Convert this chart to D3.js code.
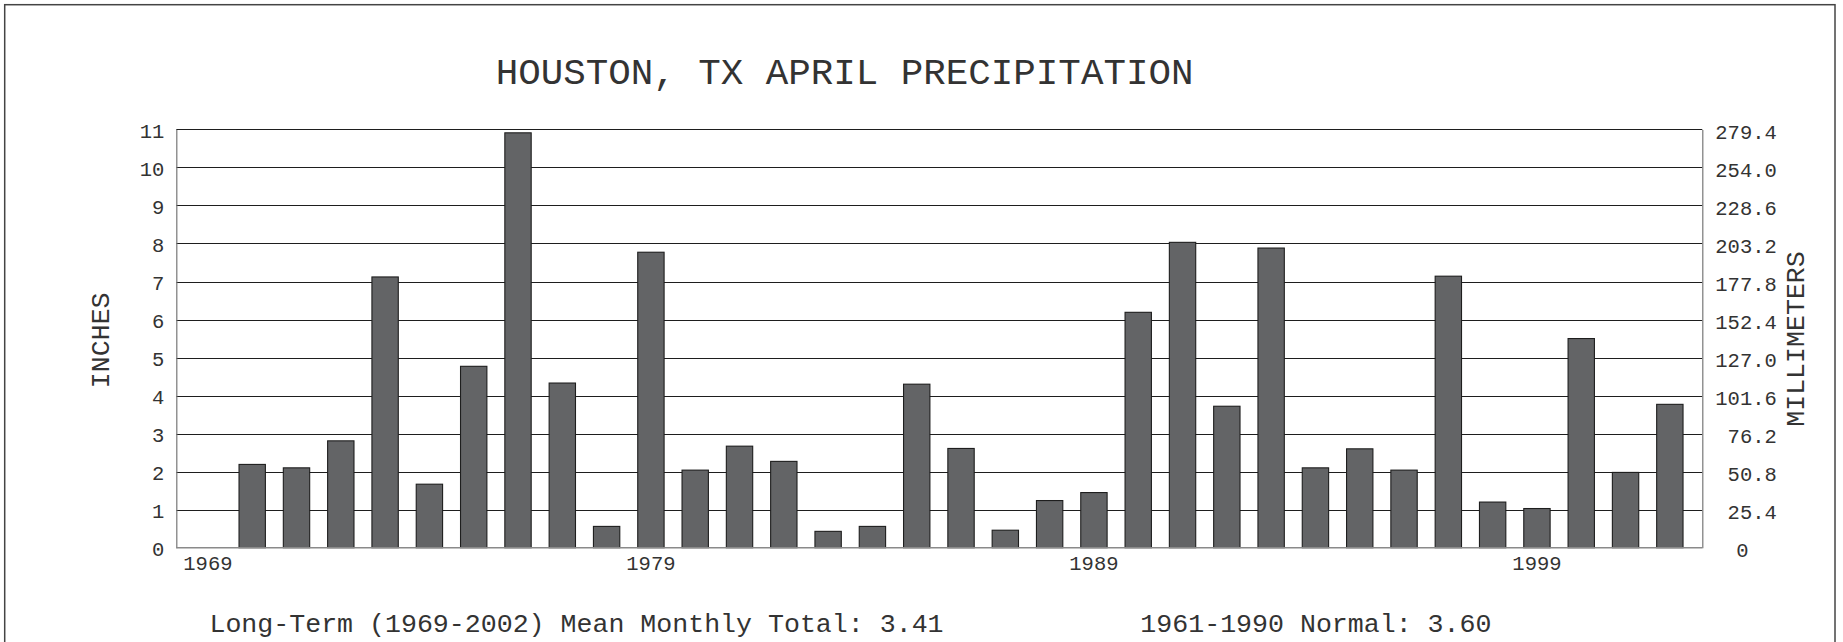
<!DOCTYPE html>
<html>
<head>
<meta charset="utf-8">
<script src="https://cdn.jsdelivr.net/npm/d3@7"></script>
<style>
  html, body { margin: 0; padding: 0; background: #fff; }
  svg { display: block; }
  text { font-family: "Liberation Mono", "DejaVu Sans Mono", monospace; fill: #333; }
</style>
</head>
<body>
<svg id="chart" width="1843" height="642"></svg>
<script>
// ---- data ----
const years = ["1969","1970","1971","1972","1973","1974","1975","1976","1977","1978",
               "1979","1980","1981","1982","1983","1984","1985","1986","1987","1988",
               "1989","1990","1991","1992","1993","1994","1995","1996","1997","1998",
               "1999","2000","2001","2002"];
const precipInches = [null, 2.19, 2.10, 2.81, 7.12, 1.67, 4.77, 10.91, 4.33, 0.56,
                      7.77, 2.04, 2.67, 2.27, 0.43, 0.56, 4.30, 2.61, 0.46, 1.24,
                      1.45, 6.19, 8.03, 3.72, 7.88, 2.10, 2.60, 2.04, 7.14, 1.20,
                      1.03, 5.50, 1.98, 3.77];
const xTickLabels = ["1969", "1979", "1989", "1999"];
const inchTicks = [0,1,2,3,4,5,6,7,8,9,10,11];
const mmTickLabels = ["0","25.4","50.8","76.2","101.6","127.0","152.4","177.8","203.2","228.6","254.0","279.4"];
const titleText = "HOUSTON, TX APRIL PRECIPITATION";
const leftTitle = "INCHES";
const rightTitle = "MILLIMETERS";
const footLeft = "Long-Term (1969-2002) Mean Monthly Total: 3.41";
const footRight = "1961-1990 Normal: 3.60";

// ---- layout ----
const svg = d3.select("#chart");
const plot = { left: 176.3, right: 1702.3, top: 129.4, bottom: 547.7 };

const x = d3.scaleBand().domain(years).range([185.75, 1692]).paddingInner(0.405).paddingOuter(0.2025);
const y = d3.scaleLinear().domain([0, 11]).range([plot.bottom, plot.top]);
const yMM = d3.scaleLinear().domain([0, 279.4]).range([plot.bottom, plot.top]);

// outer frame
svg.append("rect")
  .attr("x", 4.7).attr("y", 4.7).attr("width", 1830.3).attr("height", 700)
  .attr("fill", "none").attr("stroke", "#444").attr("stroke-width", 1.5);

// title
svg.append("text")
  .attr("x", 844.6).attr("y", 83.5)
  .attr("text-anchor", "middle")
  .style("font-size", "37.5px")
  .text(titleText);

// gridlines
svg.append("g").selectAll("line").data(inchTicks.filter(d => d > 0)).join("line")
  .attr("x1", plot.left).attr("x2", plot.right)
  .attr("y1", d => Math.round(y(d)) + 0.5).attr("y2", d => Math.round(y(d)) + 0.5)
  .attr("stroke", "#1e1e1e").attr("stroke-width", 1.1);

// bars
svg.append("g").selectAll("rect")
  .data(years.map((yr, i) => ({ yr, v: precipInches[i] })).filter(d => d.v != null))
  .join("rect")
  .attr("x", d => x(d.yr))
  .attr("width", x.bandwidth())
  .attr("y", d => y(d.v))
  .attr("height", d => y(0) - y(d.v))
  .attr("fill", "#636466")
  .attr("stroke", "#1e1e1e").attr("stroke-width", 1.1);

// left axis
const leftAxis = d3.axisLeft(y).tickValues(inchTicks).tickSize(0).tickPadding(12)
  .tickFormat(d3.format("d"));
const gl = svg.append("g").attr("transform", `translate(${plot.left},0)`).call(leftAxis);
gl.select(".domain").attr("stroke", "#777").attr("stroke-width", 1.2);
gl.selectAll("text").style("font-size", "20.5px").attr("fill", "#333").attr("y", 1.2);

// right axis (millimetres)
const rightAxis = d3.axisRight(yMM).tickValues(inchTicks.map(d => d * 25.4)).tickSize(0)
  .tickFormat((d, i) => mmTickLabels[i]);
const gr = svg.append("g").attr("transform", `translate(${plot.right},0)`).call(rightAxis);
gr.select(".domain").attr("stroke", "#777").attr("stroke-width", 1.2);
gr.selectAll("text").style("font-size", "20.5px").attr("fill", "#333")
  .attr("y", 2.2)
  .attr("text-anchor", (d, i) => mmTickLabels[i].indexOf(".") < 0 ? "middle" : "end")
  .attr("x", (d, i) => mmTickLabels[i].indexOf(".") < 0 ? 40 : 74.5);

// bottom axis
const bottomAxis = d3.axisBottom(x).tickValues(xTickLabels).tickSize(0).tickPadding(8);
const gb = svg.append("g").attr("transform", `translate(0,${plot.bottom})`).call(bottomAxis);
gb.select(".domain").remove();
gb.selectAll("text").style("font-size", "20.5px").attr("fill", "#333");
svg.append("line")
  .attr("x1", plot.left).attr("x2", plot.right)
  .attr("y1", plot.bottom).attr("y2", plot.bottom)
  .attr("stroke", "#8a8a8a").attr("stroke-width", 1.6);

// axis titles
svg.append("text")
  .attr("transform", `translate(108.5,340.3) rotate(-90)`)
  .attr("text-anchor", "middle")
  .style("font-size", "26.6px")
  .text(leftTitle);
svg.append("text")
  .attr("transform", `translate(1804,339) rotate(-90)`)
  .attr("text-anchor", "middle")
  .style("font-size", "26.6px")
  .text(rightTitle);

// footer notes
svg.append("text")
  .attr("x", 576.5).attr("y", 631.5)
  .attr("text-anchor", "middle")
  .style("font-size", "26.6px")
  .text(footLeft);
svg.append("text")
  .attr("x", 1315.9).attr("y", 631.5)
  .attr("text-anchor", "middle")
  .style("font-size", "26.6px")
  .text(footRight);
</script>
</body>
</html>
